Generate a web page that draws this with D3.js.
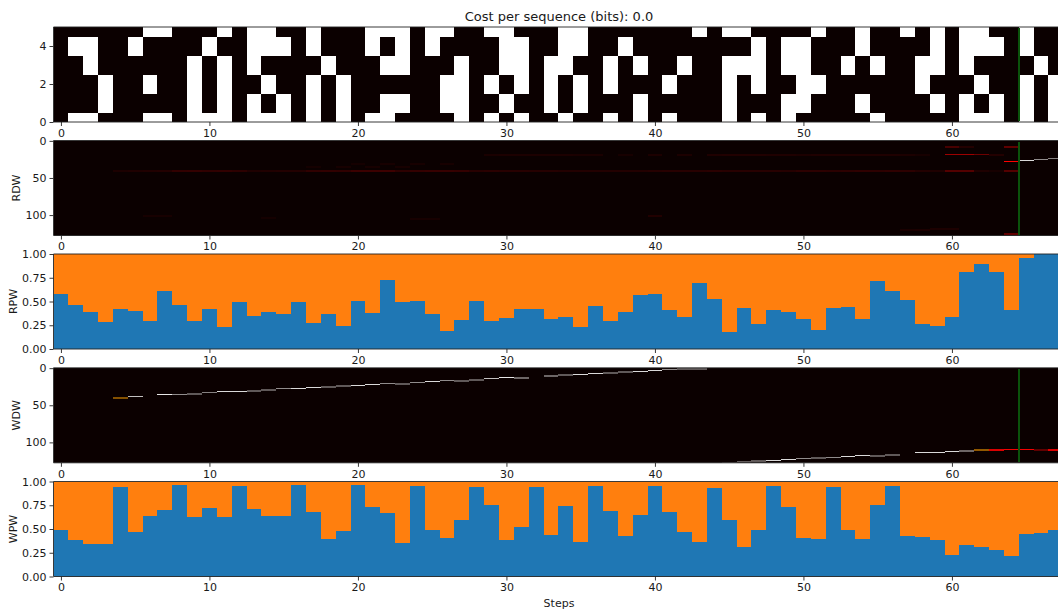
<!DOCTYPE html>
<html>
<head>
<meta charset="utf-8">
<script src="https://cdn.jsdelivr.net/npm/d3@7/dist/d3.min.js"></script>
<style>
html,body{margin:0;padding:0;background:#fff;overflow:hidden}
svg{display:block}
text{font-family:"DejaVu Sans",sans-serif;fill:#1a1a1a}
</style>
</head>
<body>
<svg id="chart" width="1058" height="613"></svg>
<script>
// ---------- data ----------
const titleText = "Cost per sequence (bits): 0.0";
const xLabel = "Steps";
const xTicks = [0,10,20,30,40,50,60];
const bitTicks = [0,2,4];
const memTicks = [0,50,100];
const weightTicks = [0,0.25,0.5,0.75,1];
const stepCount = 68;
const memRows = 128;
const currentStep = 64.5;

// columns holding a 1 in each bit channel of the input pattern
const bits0 = [1,2,6,7,9,10,11,13,14,15,17,19,21,22,27,29,31,34,37,39,41,45,47,49,55,61,62,63,65,67];
const bits1 = [3,9,11,13,15,17,19,22,23,26,27,30,33,35,39,45,49,50,54,59,61,63,65,67];
const bits2 = [3,6,9,11,14,17,19,26,27,29,31,33,35,37,41,45,47,50,51,58,62,65,67];
const bits3 = [2,9,11,13,18,22,23,27,30,31,33,34,37,39,42,45,46,47,49,50,53,55,58,59,61,66];
const bits4 = [1,2,5,10,13,14,15,17,21,23,25,30,31,34,35,38,47,49,50,54,59,61,62,63,65];
const bits5 = [6,7,11,13,14,17,21,22,23,25,26,29,30,34,35,43,45,46,51,54,57,59,61,62,65];

const rpwValues = [.583,.466,.392,.286,.424,.403,.297,.615,.466,.297,.424,.233,.498,.35,.392,.371,.498,.276,.371,.244,
  .509,.382,.731,.498,.509,.371,.191,.307,.509,.297,.329,.424,.424,.318,.339,.233,.456,.297,.392,.572,
  .583,.413,.339,.70,.53,.18,.435,.265,.413,.392,.318,.201,.435,.445,.318,.721,.615,.519,.265,.244,
  .339,.806,.89,.806,.413,.954,.996,1];
const wpwValues = [.488,.382,.339,.339,.943,.466,.636,.70,.965,.625,.72,.625,.954,.71,.636,.636,.965,.678,.392,.477,
  .965,.731,.668,.35,.954,.488,.403,.594,.943,.753,.382,.519,.943,.435,.742,.36,.954,.689,.424,.647,
  .954,.678,.466,.36,.933,.594,.307,.488,.954,.731,.403,.392,.943,.488,.392,.753,.954,.424,.413,.382,
  .223,.329,.307,.276,.212,.445,.456,.488];

// read head: faint band on one memory row, steps 4..64
const rdwBandRow = 40;
const rdwBandStart = 4;
const rdwBandLevels = [.07,.08,.09,.1,.16,.17,.15,.16,.14,.08,.09,.1,.1,.15,.16,.15,.2,.2,.21,.14,
  .17,.18,.18,.17,.12,.13,.12,.12,.11,.11,.1,.1,.1,.1,.1,.1,.11,.12,.12,.12,
  .13,.12,.12,.12,.12,.11,.14,.14,.13,.14,.15,.14,.15,.14,.1,.08,.3,.3,.08,.05,.3];
const rdwRedSpots = [[20,30,.04],[22,30,.05],[24,30,.05],[26,31,.05],[17,35,.04],[19,34,.05],[21,34,.05],[23,35,.05],
  [29,19,.06],[30,19,.07],[31,19,.07],[32,19,.07],[33,19,.07],[34,19,.07],[35,19,.06],[36,19,.06],[38,19,.05],[40,19,.07],[42,19,.07],[44,19,.08],[45,19,.09],[46,19,.09],[47,19,.09],[48,19,.08],[49,19,.08],[50,19,.07],[51,19,.08],
  [52,19,.08],[53,19,.08],[54,19,.08],[55,19,.08],[56,19,.08],[57,19,.07],[58,19,.05],[60,7,.25],[61,7,.1],[60,19,.6],[61,18,.6],[62,18,.4],[63,18,.1],
  [64,8,.35],[64,28,1],[64,125,.35],[57,119,.06],[58,119,.07],[59,118,.07],[60,118,.07],[6,101,.05],[7,101,.05],[14,103,.04],[24,104,.05],[25,104,.05],[40,100,.09]];
const rdwGraySpots = [[65,26,.85],[66,25,.55],[67,24,.5]];

// write head: memory row and strength at each step
const wdwGraySteps = [5,7,8,9,10,11,12,13,14,15,16,17,18,19,20,21,22,23,24,25,26,27,28,29,30,31,
  33,34,35,36,37,38,39,40,41,42,43,45,46,47,48,49,50,51,52,53,54,55,56,58,59,60,61];
const wdwGrayRows = [38,36,35,34,33,32,31,30,29,28,27,26,25,24,23,22,21,20,19,18,17,16,15,14,13,12,
  10,9,8,7,6,5,4,3,2,1,0,127,126,125,124,123,122,121,120,119,118,117,116,114,113,112,111];
const wdwGrayLevels = [.75,.9,.55,.35,.5,.85,.85,.35,.35,.55,.85,.85,.35,.35,.85,.85,.55,.35,.55,.85,.55,.35,.35,.75,.9,.4,
  .4,.35,.85,.85,.35,.35,.85,.85,.55,.35,.35,.45,.35,.35,.85,.85,.55,.35,.55,.85,.85,.35,.35,.85,.85,.85,.4];
const wdwOrangeSpots = [[4,39,.5],[62,110,.55]];
const wdwRedSpots = [[63,110,.85],[64,110,.95],[65,110,.95],[66,110,.35],[67,110,.85]];

// ---------- layout ----------
const svg = d3.select("#chart");
const panelLeft = 53.5, panelRight = 1063.3, panelHeight = 95;
const panelTops = [27, 140.5, 254, 367.8, 481.5];
const bg = "#0b0000", blue = "#1f77b4", orange = "#ff7f0e", green = "#0b520b";

const x = d3.scaleLinear().domain([-0.5, stepCount - 0.5]).range([panelLeft, panelRight]);
const redScale = d3.scaleLinear().domain([0,1]).range([bg, "#ff0000"]);
const grayScale = d3.scaleLinear().domain([0,1]).range([bg, "#ffffff"]);
const orangeScale = d3.scaleLinear().domain([0,1]).range([bg, "#ffa000"]);

function panel(i, id) {
  const top = panelTops[i];
  const g = svg.append("g");
  svg.append("defs").append("clipPath").attr("id", "clip" + id)
    .append("rect").attr("x", panelLeft).attr("y", top).attr("width", panelRight - panelLeft).attr("height", panelHeight);
  const plot = g.append("g").attr("clip-path", `url(#clip${id})`).attr("shape-rendering", "crispEdges");
  return {g, plot, top, bottom: top + panelHeight};
}

function frame(p, y, ticks, fmt, label, labelX) {
  const xAxis = d3.axisBottom(x).tickValues(xTicks).tickSize(4).tickPadding(3).tickFormat(d3.format("d"));
  const ax = p.g.append("g").attr("transform", `translate(0,${p.bottom})`).call(xAxis);
  const yAxis = d3.axisLeft(y).tickValues(ticks).tickSize(4).tickPadding(3).tickFormat(fmt);
  const ay = p.g.append("g").attr("transform", `translate(${panelLeft},0)`).call(yAxis);
  [ax, ay].forEach(a => {
    a.select(".domain").remove();
    a.selectAll("text").attr("font-size", 11).attr("font-family", '"DejaVu Sans",sans-serif');
    a.selectAll("line").attr("stroke", "#222").attr("stroke-width", 0.9);
  });
  p.g.append("line").attr("x1", panelLeft).attr("x2", 1058).attr("y1", p.top).attr("y2", p.top).attr("stroke", "#222").attr("stroke-width", 0.9);
  p.g.append("line").attr("x1", panelLeft).attr("x2", 1058).attr("y1", p.bottom).attr("y2", p.bottom).attr("stroke", "#222").attr("stroke-width", 0.9);
  p.g.append("line").attr("x1", panelLeft).attr("x2", panelLeft).attr("y1", p.top).attr("y2", p.bottom).attr("stroke", "#222").attr("stroke-width", 0.9);
  if (label) {
    p.g.append("text").attr("text-anchor", "middle").attr("font-size", 11)
      .attr("transform", `translate(${labelX},${(p.top + p.bottom) / 2}) rotate(-90)`).text(label);
  }
}

function greenLine(p) {
  p.plot.append("line").attr("x1", x(currentStep)).attr("x2", x(currentStep))
    .attr("y1", p.top + 1).attr("y2", p.bottom - 1)
    .attr("stroke", green).attr("stroke-width", 2).attr("shape-rendering", "crispEdges");
}

// ---------- panel 1: bit pattern ----------
(function () {
  const p = panel(0, "bits");
  const y = d3.scaleLinear().domain([0, 5]).range([p.bottom, p.top]);
  p.plot.append("rect").attr("x", panelLeft).attr("y", p.top).attr("width", panelRight - panelLeft).attr("height", panelHeight).attr("fill", bg);
  [bits0, bits1, bits2, bits3, bits4, bits5].forEach((cols, row) => {
    p.plot.append("g").selectAll("rect").data(cols).join("rect")
      .attr("x", d => x(d - 0.5)).attr("width", d => x(d + 0.5) - x(d - 0.5))
      .attr("y", y(row + 0.5)).attr("height", y(row - 0.5) - y(row + 0.5))
      .attr("fill", "#fff");
  });
  greenLine(p);
  frame(p, y, bitTicks, d3.format("d"));
})();

// ---------- memory panels ----------
function memPanel(i, id, layers, label, labelX) {
  const p = panel(i, id);
  const y = d3.scaleLinear().domain([-0.5, memRows - 0.5]).range([p.top, p.bottom]);
  p.plot.append("rect").attr("x", panelLeft).attr("y", p.top).attr("width", panelRight - panelLeft).attr("height", panelHeight).attr("fill", bg);
  layers.forEach(l => {
    p.plot.append("g").selectAll("rect").data(l.cells).join("rect")
      .attr("x", d => x(d[0] - 0.5)).attr("width", d => x(d[0] + 0.5) - x(d[0] - 0.5))
      .attr("y", d => Math.floor(y(d[1]))).attr("height", d => d[2] < l.spreadBelow ? 2 : 1)
      .attr("fill", d => l.scale(d[2]));
  });
  greenLine(p);
  frame(p, y, memTicks, d3.format("d"), label, labelX);
}

memPanel(1, "rdw", [
  {cells: rdwBandLevels.map((v, k) => [rdwBandStart + k, rdwBandRow, v]), scale: redScale, spreadBelow: 0.4},
  {cells: rdwRedSpots, scale: redScale, spreadBelow: 0.4},
  {cells: rdwGraySpots, scale: grayScale, spreadBelow: 0}
], "RDW", 20);

memPanel(3, "wdw", [
  {cells: wdwGrayLevels.map((v, k) => [wdwGraySteps[k], wdwGrayRows[k], v]), scale: grayScale, spreadBelow: 0.5},
  {cells: wdwOrangeSpots, scale: orangeScale, spreadBelow: 0.6},
  {cells: wdwRedSpots, scale: redScale, spreadBelow: 0.9}
], "WDW", 20);

// ---------- weight panels ----------
function weightPanel(i, id, values, label) {
  const p = panel(i, id);
  const y = d3.scaleLinear().domain([0, 1]).range([p.bottom, p.top]);
  const cols = p.plot.selectAll("g").data(values).join("g");
  cols.append("rect").attr("x", (d, k) => x(k - 0.5)).attr("width", (d, k) => x(k + 0.5) - x(k - 0.5))
    .attr("y", y(1)).attr("height", d => y(d) - y(1)).attr("fill", orange);
  cols.append("rect").attr("x", (d, k) => x(k - 0.5)).attr("width", (d, k) => x(k + 0.5) - x(k - 0.5))
    .attr("y", d => y(d)).attr("height", d => y(0) - y(d)).attr("fill", blue);
  frame(p, y, weightTicks, d3.format(".2f"), label, 17);
}
weightPanel(2, "rpw", rpwValues, "RPW");
weightPanel(4, "wpw", wpwValues, "WPW");

// ---------- titles ----------
svg.append("text").attr("x", 559).attr("y", 21).attr("text-anchor", "middle").attr("font-size", 13).text(titleText);
svg.append("text").attr("x", 559).attr("y", 607).attr("text-anchor", "middle").attr("font-size", 11).text(xLabel);
</script>
</body>
</html>
